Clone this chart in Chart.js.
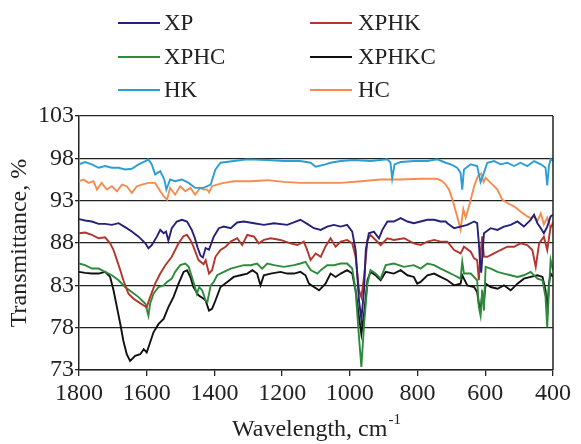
<!DOCTYPE html>
<html>
<head>
<meta charset="utf-8">
<script src="https://cdn.jsdelivr.net/npm/chart.js@4"></script>
<style>
  body { margin: 0; background: #fff; }
</style>
</head>
<body>
<canvas id="chart" width="581" height="444"></canvas>
<script>
// wavenumber (cm-1) and transmittance (%)
const xpWn = [1800,1782,1762,1742,1723,1703,1683,1664,1644,1624,1604,1595,1585,1570,1560,1550,1543,1536,1526,1511,1496,1481,1467,1458,1450,1441,1434,1426,1416,1402,1387,1372,1352,1333,1313,1283,1254,1224,1185,1146,1126,1106,1086,1067,1047,1027,1008,993,983,973,966,958,953,944,929,914,904,889,870,850,830,811,791,771,751,732,717,712,692,673,653,633,624,619,616,612,604,584,564,545,525,505,486,466,456,446,436,427,417,407,400];
const xpT = [90.82,90.66,90.54,90.26,90.26,90.14,90.34,89.87,89.35,88.75,87.96,87.37,87.76,88.75,89.55,89.15,89.35,88.28,89.75,90.54,90.74,90.54,89.55,88.6,87.5,86.5,86.3,87.4,87.2,88.75,89.75,89.94,89.75,90.42,90.54,90.34,90.14,90.34,90.14,90.74,90.26,89.75,89.55,89.94,90.14,89.94,90.14,89.35,87.17,81.2,79.0,82.5,87.17,89.15,89.35,88.56,89.55,90.54,90.54,90.94,90.54,90.34,90.54,90.74,90.74,90.54,90.54,90.34,89.75,89.94,90.14,90.54,90.34,88.0,86.0,84.5,89.15,89.75,89.55,89.94,90.14,90.54,89.94,90.74,91.33,90.34,89.75,89.15,89.94,91.14,91.33];

const xphkWn = [1800,1782,1762,1742,1723,1708,1698,1688,1678,1669,1654,1639,1624,1609,1600,1590,1575,1560,1545,1526,1506,1491,1481,1471,1462,1447,1432,1426,1416,1407,1397,1382,1367,1352,1333,1318,1303,1283,1269,1254,1234,1205,1175,1155,1136,1126,1116,1101,1086,1072,1057,1042,1027,1008,993,983,973,966,958,948,939,924,909,889,870,840,811,791,771,751,732,712,692,673,663,643,633,624,619,614,609,604,594,574,555,535,515,496,476,461,451,441,427,417,407,400];
const xphkT = [89.15,89.23,88.95,88.56,88.67,87.96,87.17,85.98,84.79,83.6,82.01,81.41,81.02,80.62,80.42,81.61,83.2,84.39,85.38,86.37,87.96,88.83,88.95,88.36,87.56,85.98,85.5,85.98,84.39,84.79,86.37,87.17,87.56,88.16,88.56,87.76,88.95,88.75,87.96,88.36,88.56,88.36,87.96,87.76,88.16,87.17,85.98,86.77,86.37,87.6,88.56,87.56,88.16,88.36,87.96,86.37,82.41,81.6,84.0,88.36,88.95,88.36,87.76,88.56,88.36,88.56,87.96,87.76,88.16,88.36,88.16,88.16,87.17,86.77,87.56,86.97,86.18,85.98,83.6,86.77,88.8,86.4,86.37,86.77,87.17,87.56,87.56,87.96,87.76,87.17,85.18,87.96,88.75,87.17,89.94,90.14];

const xphcWn = [1800,1782,1762,1742,1723,1703,1683,1664,1644,1624,1604,1595,1590,1580,1565,1550,1540,1526,1516,1501,1486,1476,1462,1452,1445,1436,1426,1421,1411,1402,1392,1372,1352,1333,1313,1293,1274,1259,1244,1224,1195,1165,1146,1131,1116,1096,1086,1067,1047,1027,1008,993,983,973,966,958,948,939,924,909,894,870,840,811,791,771,751,732,712,692,673,668,663,643,624,619,614,609,604,599,584,564,545,525,505,486,466,446,431,422,417,412,407,400];
const xphcT = [85.58,85.38,84.98,84.98,84.59,84.19,83.6,82.8,82.21,81.61,80.82,79.43,80.82,82.01,82.8,83.0,83.4,83.79,84.59,85.38,85.58,85.18,83.4,82.0,82.8,82.4,81.2,81.0,83.0,83.4,84.19,84.59,84.98,85.18,85.38,85.38,85.58,84.98,85.58,85.38,85.18,85.38,85.58,85.78,84.8,84.39,84.79,85.38,85.38,85.58,85.58,84.98,82.41,76.85,73.36,78.44,83.2,84.79,84.39,83.79,85.38,85.58,85.18,85.38,84.98,85.58,85.38,84.98,84.59,84.19,83.79,85.78,84.39,84.39,83.6,80.42,79.43,82.41,80.02,85.18,84.98,84.59,84.39,84.19,83.99,84.19,84.59,83.79,83.6,81.61,78.04,82.41,85.98,84.79];

const xphkcWn = [1800,1782,1762,1742,1723,1708,1698,1688,1678,1669,1659,1649,1634,1619,1609,1600,1590,1580,1565,1550,1536,1521,1506,1491,1481,1471,1462,1447,1432,1426,1416,1407,1397,1382,1362,1343,1323,1303,1288,1274,1264,1254,1234,1205,1185,1165,1146,1131,1121,1106,1091,1072,1057,1042,1027,1008,993,983,973,966,958,948,939,924,909,894,870,850,830,811,801,791,771,751,732,712,692,673,668,653,633,624,619,614,609,604,599,584,564,545,525,505,486,466,446,431,422,417,412,407,400];
const xphkcT = [84.59,84.47,84.39,84.39,84.59,83.99,82.41,80.42,78.44,76.45,74.87,74.07,74.67,74.87,75.46,75.07,76.25,77.45,78.44,79.03,80.42,81.61,83.2,84.59,84.79,83.99,82.8,81.81,81.41,81.21,80.02,80.22,81.21,82.8,83.4,83.99,84.19,84.39,84.79,84.39,83.0,84.19,84.39,84.59,84.39,84.39,84.59,84.19,83.2,82.8,82.41,83.2,84.39,83.99,84.39,84.79,84.39,82.41,79.23,77.25,79.63,83.6,84.59,84.19,83.6,84.59,84.39,84.79,84.19,83.99,83.2,83.4,84.19,84.39,83.99,83.6,83.0,83.2,84.19,83.0,82.8,82.21,80.82,80.02,82.01,81.21,83.2,82.8,82.6,83.0,82.41,83.2,83.79,83.99,84.19,83.99,82.41,79.63,83.2,84.39,83.99];

const hkWn = [1800,1782,1762,1742,1723,1703,1683,1664,1644,1624,1604,1595,1585,1575,1560,1548,1542,1531,1516,1496,1476,1457,1432,1411,1397,1382,1343,1303,1244,1195,1146,1116,1101,1072,1057,1027,988,939,889,880,875,868,850,811,771,742,717,702,683,673,668,663,643,624,614,604,594,574,555,535,515,496,476,456,436,422,417,412,407,400];
const hkT = [97.3,97.56,97.29,96.89,97.09,96.89,96.89,96.69,96.77,97.29,97.68,97.88,97.29,96.1,96.49,95.5,94.31,95.5,95.3,95.5,95.1,94.51,94.51,94.9,96.69,97.48,97.68,97.88,97.8,97.68,97.68,97.48,97.01,97.29,97.48,97.68,97.8,97.68,97.88,97.48,95.6,97.29,97.56,97.68,97.68,97.88,97.48,97.29,96.89,96.29,94.31,96.69,97.29,97.09,95.2,96.29,97.48,97.68,97.29,97.48,97.09,97.48,97.09,97.68,97.29,96.89,94.8,97.09,97.9,97.7];

const hcWn = [1800,1787,1772,1757,1747,1733,1718,1703,1688,1673,1659,1644,1629,1614,1595,1575,1560,1550,1540,1531,1516,1501,1486,1471,1457,1442,1432,1421,1416,1407,1392,1372,1343,1293,1244,1195,1146,1072,1027,966,909,850,791,742,727,717,707,697,683,673,665,658,648,633,622,612,605,599,584,564,550,535,515,496,476,466,456,446,436,427,417,407,400];
const hcT = [95.3,95.5,95.1,95.3,94.31,95.1,94.31,94.71,94.11,94.9,94.71,93.91,94.71,94.9,95.1,95.1,94.11,93.52,93.12,94.51,93.71,94.71,94.11,94.51,93.71,94.51,94.31,94.31,93.99,94.71,94.9,95.1,95.3,95.3,95.42,95.22,95.1,95.1,95.1,95.3,95.5,95.5,95.58,95.58,95.3,94.9,94.3,93.12,91.14,89.6,92.0,91.0,92.33,94.71,95.9,96.2,95.2,95.7,95.1,94.31,93.12,92.72,92.33,91.73,91.14,90.94,91.2,90.6,91.5,90.2,91.0,89.8,90.5];

const yTicks = [73, 78, 83, 88, 93, 98, 103];
const xTicks = [1800, 1600, 1400, 1200, 1000, 800, 600, 400];

const series = [
  { label: 'XP', wn: xpWn, t: xpT, color: '#25217a' },
  { label: 'XPHK', wn: xphkWn, t: xphkT, color: '#b3352b' },
  { label: 'XPHC', wn: xphcWn, t: xphcT, color: '#2e8b3c' },
  { label: 'XPHKC', wn: xphkcWn, t: xphkcT, color: '#111111' },
  { label: 'HK', wn: hkWn, t: hkT, color: '#2b9fd4' },
  { label: 'HC', wn: hcWn, t: hcT, color: '#f58c50' }
];

const serif = 'Liberation Serif';
const ink = '#222';

// legend in two columns + axis titles + right frame line
const extras = {
  id: 'extras',
  afterDraw(chart) {
    const ctx = chart.ctx;
    const a = chart.chartArea;
    ctx.save();

    ctx.strokeStyle = ink;
    ctx.lineWidth = 1.5;
    ctx.beginPath();
    ctx.moveTo(a.right, a.top);
    ctx.lineTo(a.right, a.bottom);
    ctx.stroke();

    const cols = [{ x0: 118, x1: 160, tx: 164 }, { x0: 310, x1: 352, tx: 358 }];
    const rows = [23, 57, 90];
    ctx.font = '23px "' + serif + '"';
    ctx.textBaseline = 'middle';
    ctx.textAlign = 'left';
    chart.data.datasets.forEach((ds, i) => {
      const c = cols[i % 2];
      const y = rows[Math.floor(i / 2)];
      ctx.strokeStyle = ds.borderColor;
      ctx.lineWidth = 2;
      ctx.beginPath();
      ctx.moveTo(c.x0, y);
      ctx.lineTo(c.x1, y);
      ctx.stroke();
      ctx.fillStyle = ink;
      ctx.fillText(ds.label, c.tx, y + 1);
    });

    // y title
    ctx.save();
    ctx.translate(20, (a.top + a.bottom) / 2);
    ctx.rotate(-Math.PI / 2);
    ctx.textAlign = 'center';
    ctx.font = '24px "' + serif + '"';
    ctx.fillStyle = ink;
    ctx.fillText('Transmittance, %', 0, 0);
    ctx.restore();

    // x title with superscript
    const main = 'Wavelength, cm';
    const sup = '-1';
    ctx.textBaseline = 'alphabetic';
    ctx.font = '24px "' + serif + '"';
    const w1 = ctx.measureText(main).width;
    ctx.font = '15px "' + serif + '"';
    const w2 = ctx.measureText(sup).width;
    const sx = (a.left + a.right) / 2 - (w1 + w2) / 2;
    ctx.fillStyle = ink;
    ctx.font = '24px "' + serif + '"';
    ctx.fillText(main, sx, 436);
    ctx.font = '15px "' + serif + '"';
    ctx.fillText(sup, sx + w1 + 1, 424);

    ctx.restore();
  }
};

new Chart(document.getElementById('chart').getContext('2d'), {
  type: 'line',
  data: {
    datasets: series.map(s => ({
      label: s.label,
      data: s.wn.map((w, i) => ({ x: w, y: s.t[i] })),
      borderColor: s.color,
      backgroundColor: s.color,
      borderWidth: 1.9,
      pointRadius: 0,
      tension: 0,
      fill: false
    }))
  },
  options: {
    responsive: false,
    animation: false,
    layout: { padding: { top: 116, right: 28, left: 0, bottom: 0 } },
    plugins: { legend: { display: false }, tooltip: { enabled: false } },
    scales: {
      x: {
        type: 'linear',
        reverse: true,
        min: 400,
        max: 1800,
        afterFit: s => { s.height = 74; },
        afterBuildTicks: s => { s.ticks = xTicks.map(v => ({ value: v })); },
        grid: { drawOnChartArea: false, drawTicks: true, tickLength: 6, color: ink, lineWidth: 1.3 },
        border: { display: true, color: ink, width: 1.5 },
        ticks: { font: { family: serif, size: 24 }, color: ink, padding: 3, maxRotation: 0, callback: v => String(v) }
      },
      y: {
        min: 73,
        max: 103,
        afterFit: s => { s.width = 79; },
        afterBuildTicks: s => { s.ticks = yTicks.map(v => ({ value: v })); },
        grid: { color: ink, lineWidth: 1.3, tickLength: 4 },
        border: { display: true, color: ink, width: 1.5 },
        ticks: { font: { family: serif, size: 24 }, color: ink, padding: 1, callback: v => String(v) }
      }
    }
  },
  plugins: [extras]
});
</script>
</body>
</html>
